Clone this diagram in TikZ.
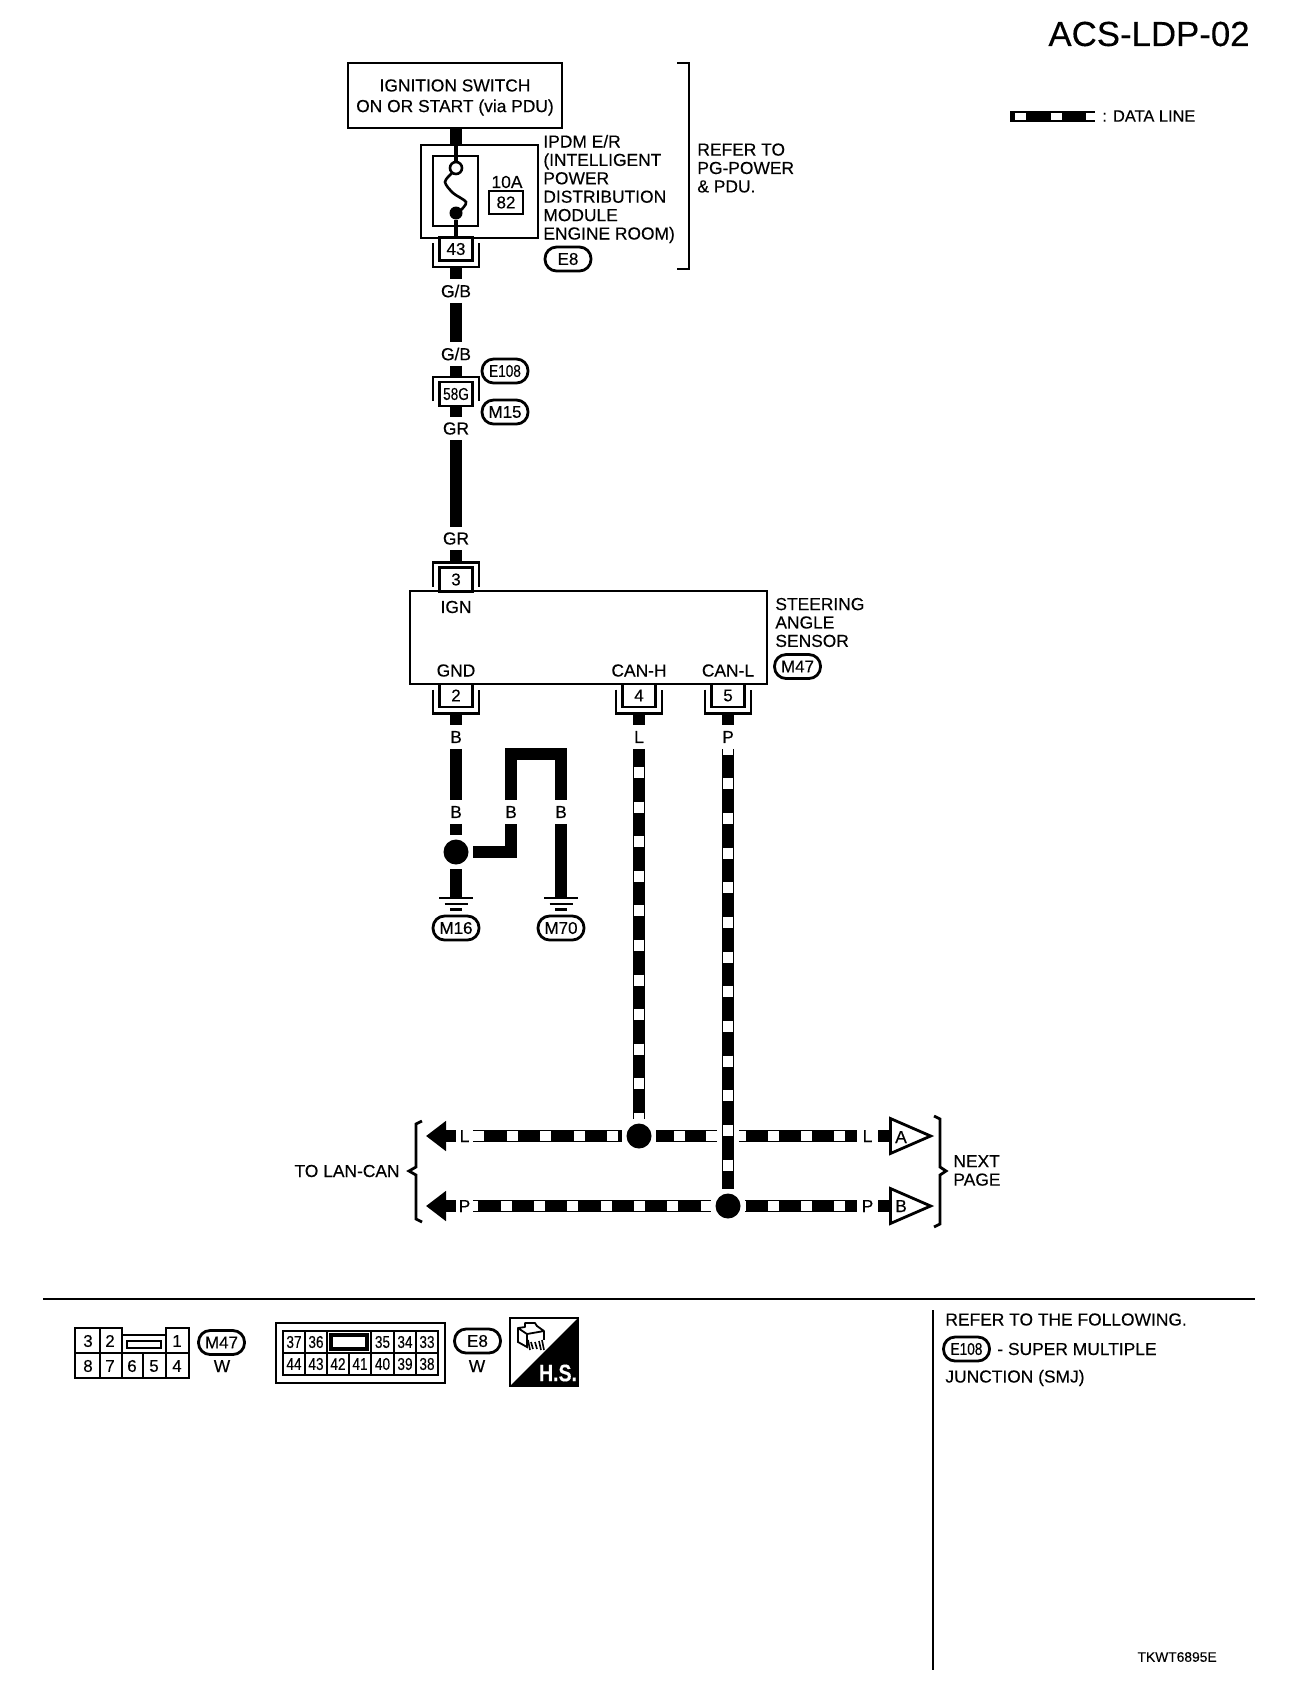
\documentclass[tikz,border=0pt]{standalone}
\usepackage{fontspec}
\setmainfont{Liberation Sans}[FakeBold=0.25]
\usetikzlibrary{arrows.meta,shapes.geometric}
\newcommand\narrow[1]{\scalebox{0.8}[1]{#1}}
\tikzset{
  wire/.style={line width=6pt,draw=black},
  whitesq/.style={line width=4.6pt,draw=white},
  thinwire/.style={line width=1.6pt,draw=black},
  frame/.style={draw=black,line width=1.4pt,fill=white,inner sep=0pt},
  outerline/.style={draw=black,line width=1.4pt},
  txt/.style={inner sep=0pt,font=\fontsize{8.7}{9.2}\selectfont},
  wirelabel/.style={inner sep=0pt,minimum height=11.5pt,font=\fontsize{8.7}{9.2}\selectfont},
  pinbox/.style={frame,line width=1.4pt,minimum width=16.5pt,font=\fontsize{8.5}{9}\selectfont},
  oval/.style={draw=black,fill=white,line width=1.4pt,rounded corners=5.8pt,inner sep=0pt,minimum width=23pt,minimum height=12pt,font=\fontsize{8.5}{9}\selectfont},
  dot/.style={circle,fill=black,minimum size=12.5pt,inner sep=0pt,outer sep=2.25pt},
  cell/.style={inner sep=0pt,font=\fontsize{8.5}{9}\selectfont},
  offpage/.style={isosceles triangle,isosceles triangle apex angle=47,draw=black,line width=1.4pt,fill=white,inner sep=0pt,minimum height=20pt,minimum width=17.5pt,anchor=lower side},
  gndline/.style={draw=black,line width=1.3pt},
  grid/.style={draw=black,line width=1.3pt},
}
% pin with an open-top or open-bottom outer bracket
\newcommand\pinbelow[4]{% name, x, centre y, text  (bracket below)
  \node[pinbox,minimum height=11.5pt] (#1) at (#2,#3) {#4};
  \draw[outerline] (#2-23,#3-6) -- (#2-23,#3+18) -- (#2+23,#3+18) -- (#2+23,#3-6);
  \coordinate (#1out) at (#2,#3+18);
}
\newcommand\pinabove[4]{% name, x, centre y, text (bracket above)
  \node[pinbox,minimum height=12pt] (#1) at (#2,#3) {#4};
  \draw[outerline] (#2-23,#3+7) -- (#2-23,#3-17) -- (#2+23,#3-17) -- (#2+23,#3+7);
  \coordinate (#1out) at (#2,#3-17);
}
\newcommand\gnd[1]{%
  \draw[gndline] ([xshift=-8.5pt]#1) -- ([xshift=8.5pt]#1);
  \draw[gndline] ([shift={(-5.75pt,-3pt)}]#1) -- ([shift={(5.75pt,-3pt)}]#1);
  \draw[gndline] ([shift={(-3pt,-5.75pt)}]#1) -- ([shift={(3pt,-5.75pt)}]#1);
}
\begin{document}
\begin{tikzpicture}[x=0.5pt,y=-0.5pt]
\useasboundingbox (0,0) rectangle (1312,1692);
\fill[white] (0,0) rectangle (1312,1692);

% title and legend
\node[inner sep=0pt,anchor=east,font=\fontsize{17.4}{18}\selectfont] (title) at (1250,34) {ACS-LDP-02};
\coordinate (legA) at (1010,116.5);
\coordinate (legB) at (1095,116.5);
\draw[line width=5.5pt] (legA) -- (legB);
\draw[line width=3.8pt,draw=white,dash pattern=on 5.5pt off 12.25pt,dash phase=15.25pt] (legA) -- (legB);
\node[txt,anchor=west,font=\fontsize{8.2}{9}\selectfont] (legtext) at (1102,116) {: DATA LINE};

% ignition switch and IPDM
\node[frame,minimum width=107pt,minimum height=32.5pt] (ign) at (455,95.5) {};
\node[inner sep=0pt,align=center,font=\fontsize{8.7}{10.3}\selectfont] (igntext) at (455,97.5) {IGNITION SWITCH\\ON OR START (via PDU)};
\node[frame,line width=1.4pt,minimum width=58.5pt,minimum height=46.5pt] (ipdm) at (479.5,191.5) {};
\coordinate (ignout) at (456,128);
\coordinate (ipdmin) at (456,145);
\draw[wire] (ignout) -- (ipdmin);
\node[frame,line width=1.4pt,minimum width=22.5pt,minimum height=35pt] (fusebox) at (455.5,191) {};
\node[circle,draw=black,line width=1.3pt,fill=white,minimum size=6pt,inner sep=0pt] (fusein) at (456,168) {};
\node[circle,fill=black,minimum size=6.5pt,inner sep=0pt] (fuseout) at (456,213) {};
\draw[line width=1.3pt] plot[smooth] coordinates {(452,173) (445,182) (453,193) (466,202) (461,210)};
\draw[thinwire] (ipdmin) -- (fusein.north);
\node[txt] (amp) at (507,182) {10A};
\node[frame,line width=1.4pt,minimum width=17pt,minimum height=11.5pt,font=\fontsize{8.5}{9}\selectfont] (fuseno) at (506,202.5) {82};
\node[txt,anchor=west,align=left] (ipdmtext) at (543,189) {IPDM E/R\\(INTELLIGENT\\POWER\\DISTRIBUTION\\MODULE\\ENGINE ROOM)};
\node[oval] (ovE8a) at (568,259) {E8};
\draw[outerline] (677,63) -- (689,63) -- (689,269) -- (677,269);
\node[txt,anchor=west,align=left] (refer) at (697,168) {REFER TO\\PG-POWER\\\& PDU.};

% pin 43
\pinbelow{p43}{456}{249}{43}
\draw[thinwire] (fuseout.south) -- (p43.north);
\node[wirelabel] (gb1) at (456,291) {G/B};
\node[wirelabel] (gb2) at (456,354) {G/B};
\draw[wire] (p43out) -- (gb1.north);
\draw[wire] (gb1.south) -- (gb2.north);

% junction 58G
\pinabove{p58}{456}{394}{\narrow{58G}}
\draw[wire] (gb2.south) -- (p58out);
\node[oval] (ovE108) at (505,371) {\narrow{E108}};
\node[oval] (ovM15) at (505,412) {M15};
\node[wirelabel] (gr1) at (456,428.5) {GR};
\node[wirelabel] (gr2) at (456,538.5) {GR};
\draw[wire] (p58.south) -- (gr1.north);
\draw[wire] (gr1.south) -- (gr2.north);

% steering angle sensor
\node[frame,minimum width=178.5pt,minimum height=46.5pt] (sas) at (588.5,637.5) {};
\pinabove{p3}{456}{579.5}{3}
\draw[wire] (gr2.south) -- (p3out);
\node[txt] (ign1) at (456,607) {IGN};
\node[txt] (gnd1) at (456,670.5) {GND};
\node[txt] (canh) at (639,670.5) {CAN-H};
\node[txt] (canl) at (728,670.5) {CAN-L};
\node[txt,anchor=west,align=left] (sastext) at (775,622.5) {STEERING\\ANGLE\\SENSOR};
\node[oval] (ovM47a) at (797.5,666.5) {M47};
\pinbelow{p2}{456}{695.5}{2}
\pinbelow{p4}{639}{695.5}{4}
\pinbelow{p5}{728}{695.5}{5}

% ground wires
\node[wirelabel] (b1) at (456,737) {B};
\node[wirelabel] (b2) at (456,812) {B};
\node[wirelabel] (b3) at (511,812) {B};
\node[wirelabel] (b4) at (561,812) {B};
\node[dot] (gj) at (456,852) {};
\coordinate (g1) at (456,898);
\coordinate (g2) at (561,898);
\coordinate (bendL) at (511,753.5);
\coordinate (bendR) at (561,753.5);
\draw[wire] (p2out) -- (b1.north);
\draw[wire] (b1.south) -- (b2.north);
\draw[wire] (b2.south) -- (gj.north);
\draw[wire] (gj.south) -- (g1);
\draw[wire] (gj.east) -| (b3.south);
\draw[wire,line join=miter] (b3.north) -- (bendL) -- (bendR) -- (b4.north);
\draw[wire] (b4.south) -- (g2);
\gnd{g1}
\gnd{g2}
\node[oval] (ovM16) at (456,928) {M16};
\node[oval] (ovM70) at (561,928) {M70};

% data lines
\node[wirelabel] (lv) at (639,737) {L};
\node[wirelabel] (pv) at (728,737) {P};
\draw[wire] (p4out) -- (lv.north);
\draw[wire] (p5out) -- (pv.north);
\node[dot] (jL) at (639,1136) {};
\node[dot] (jP) at (728,1206) {};
\node[wirelabel,minimum width=8.5pt] (lL) at (464.5,1136) {L};
\node[wirelabel,minimum width=8.5pt] (lP) at (464.5,1206) {P};
\node[wirelabel,minimum width=10.5pt] (rL) at (867.5,1136) {L};
\node[wirelabel,minimum width=10.5pt] (rP) at (867.5,1206) {P};
\coordinate (tipL) at (426,1136);
\coordinate (tipP) at (426,1206);
\draw[wire,-{Triangle[length=10pt,width=14.5pt]}] (lL.west) -- (tipL);
\draw[wire,-{Triangle[length=10pt,width=14.5pt]}] (lP.west) -- (tipP);
\node[offpage] (offA) at (889,1136) {};
\node[offpage] (offB) at (889,1206) {};
\node[txt] (letA) at (901,1137) {A};
\node[txt] (letB) at (901,1206) {B};
\draw[wire] (rL.east) -- (offA.lower side);
\draw[wire] (rP.east) -- (offB.lower side);
% breaks where the vertical data line crosses
\coordinate (brkL) at (717,1136);
\coordinate (brkR) at (739,1136);

\draw[wire] (lv.south) -- (jL.north);
\draw[whitesq,dash pattern=on 5.5pt off 11.8pt,dash phase=8.3pt] (lv.south) -- (jL.north);
\draw[wire] (pv.south) -- (jP.north);
\draw[whitesq,dash pattern=on 5.5pt off 11.83pt,dash phase=2.65pt] (pv.south) -- (jP.north);

\draw[wire] (lL.east) -- (jL.west);
\draw[whitesq,dash pattern=on 5.5pt off 11.25pt] (lL.east) -- (jL.west);
\draw[wire] (brkL) -- (jL.east);
\draw[whitesq,dash pattern=on 5.5pt off 10.5pt] (brkL) -- (jL.east);
\draw[wire] (brkR) -- (rL.west);
\draw[whitesq,dash pattern=on 5.5pt off 11pt,dash phase=2pt] (brkR) -- (rL.west);

\draw[wire] (lP.east) -- (jP.west);
\draw[whitesq,dash pattern=on 5.5pt off 11.15pt,dash phase=3pt] (lP.east) -- (jP.west);
\draw[wire] (jP.east) -- (rP.west);
\draw[whitesq,dash pattern=on 5.5pt off 11pt,dash phase=5pt] (jP.east) -- (rP.west);

% brackets
\draw[outerline] (422,1121) -- (416,1124) -- (416,1167) -- (409,1171) -- (416,1175) -- (416,1219) -- (422,1222);
\draw[outerline] (934,1116) -- (940,1119) -- (940,1167) -- (946,1171) -- (940,1175) -- (940,1224) -- (934,1227);
\node[txt,anchor=east] (lan) at (400,1171) {TO LAN-CAN};
\node[txt,anchor=west,align=left] (next) at (953,1170.5) {NEXT\\PAGE};

% separator
\coordinate (ruleA) at (43,1299);
\coordinate (ruleB) at (1255,1299);
\coordinate (ruleC) at (933,1310);
\coordinate (ruleD) at (933,1670);
\draw[line width=1.2pt] (ruleA) -- (ruleB);
\draw[line width=1.2pt] (ruleC) -- (ruleD);

% connector M47
\draw[grid] (75,1328) -- (122,1328) -- (122,1335) -- (166,1335) -- (166,1328) -- (189,1328) -- (189,1378) -- (75,1378) -- cycle;
\draw[grid] (75,1353) -- (189,1353);
\draw[grid] (100,1328) -- (100,1378);
\draw[grid] (122,1335) -- (122,1378);
\draw[grid] (143,1353) -- (143,1378);
\draw[grid] (166,1335) -- (166,1378);
\draw[grid] (127,1341) rectangle (161,1348);
\foreach \t/\xx/\yy in {3/88/1341,2/110/1341,1/177/1341,8/88/1366,7/110/1366,6/132/1366,5/154/1366,4/177/1366}
  \node[cell] (m\t) at (\xx,\yy) {\t};
\node[oval] (ovM47b) at (221.5,1342.5) {M47};
\node[txt] (wA) at (222,1366) {W};

% connector E8
\draw[grid] (276,1323) rectangle (445,1383);
\draw[grid] (283,1331) rectangle (438,1375);
\draw[grid] (283,1353) -- (438,1353);
\foreach \xx in {305,327,371,394,416}
  \draw[grid] (\xx,1331) -- (\xx,1375);
\draw[grid] (349,1353) -- (349,1375);
\draw[line width=1.6pt] (331,1335) rectangle (367,1349);
\foreach \t/\xx/\yy in {37/294/1342,36/316/1342,35/382.5/1342,34/405/1342,33/427/1342,44/294/1364,43/316/1364,42/338/1364,41/360/1364,40/382.5/1364,39/405/1364,38/427/1364}
  \node[cell] (e\t) at (\xx,\yy) {\narrow{\t}};
\node[oval] (ovE8b) at (477.5,1341) {E8};
\node[txt] (wB) at (477,1366) {W};

% H.S. symbol
\fill[black] (578,1318) -- (578,1386) -- (510,1386) -- cycle;
\draw[line width=1.4pt] (510,1318) rectangle (578,1386);
\draw[line width=0.9pt,line join=round] (518,1328) -- (525,1327) -- (525,1323) -- (535,1323) -- (537,1326) -- (544,1331) -- (527,1334) -- cycle;
\draw[line width=0.9pt] (518,1328) -- (518,1342) -- (527,1347) -- (527,1334);
\draw[line width=0.9pt] (544,1331) -- (544,1340);
\draw[line width=0.8pt] (528,1340) -- (530,1350);
\draw[line width=0.8pt] (531,1342) -- (533,1349);
\draw[line width=0.8pt] (535,1342) -- (537,1349);
\draw[line width=0.8pt] (539,1341) -- (541,1350);
\draw[line width=0.8pt] (542,1340) -- (544,1350);
\node[inner sep=0pt,text=white,font=\fontsize{11.9}{12}\selectfont\bfseries] (hs) at (558,1373) {\scalebox{0.82}[1]{H.S.}};

% notes
\node[txt,anchor=west] (n1) at (945,1319.5) {REFER TO THE FOLLOWING.};
\node[oval] (ovE108b) at (966.5,1349) {\narrow{E108}};
\node[txt,anchor=west] (n2) at (997,1349) {- SUPER MULTIPLE};
\node[txt,anchor=west] (n3) at (945,1378) {JUNCTION (SMJ)};
\node[inner sep=0pt,anchor=east,font=\fontsize{6.9}{8}\selectfont] (code) at (1217,1657) {TKWT6895E};
\end{tikzpicture}
\end{document}
